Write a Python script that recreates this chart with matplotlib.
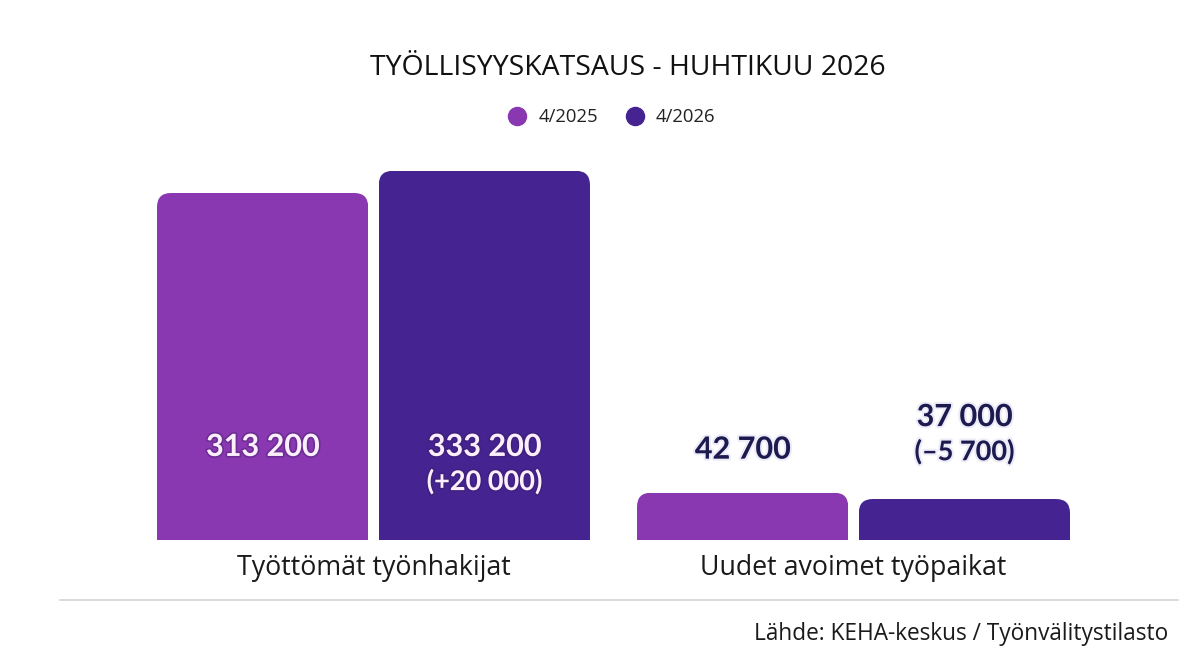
import matplotlib
matplotlib.use('Agg')
import matplotlib.pyplot as plt
import matplotlib.patheffects as pe
from matplotlib.patches import FancyBboxPatch
from matplotlib.lines import Line2D
import numpy as np

# Data
categories = ['Työttömät työnhakijat', 'Uudet avoimet työpaikat']
series_names = ['4/2025', '4/2026']
values_2025 = [313200, 42700]
values_2026 = [333200, 37000]
value_labels_2025 = ['313 200', '42 700']
value_labels_2026 = ['333 200', '37 000']
change_labels_2026 = ['(+20 000)', '(–5 700)']

colors = ['#8A38B1', '#452492']

plt.rcParams['font.family'] = ['Open Sans', 'DejaVu Sans']

fig = plt.figure(figsize=(12, 6.7), dpi=100)
ax = fig.add_axes([60 / 1200, 130 / 670, 1118 / 1200, 390 / 670])

x = np.arange(len(categories))
width = 0.44
offset = 0.231
ymax = 352000
ax.set_xlim(-0.6531, 1.676)
ax.set_ylim(0, ymax)

# pixel scales for rounded corners
dx_pix = 1118 / (1.676 + 0.6531)
dy_pix = 390 / ymax
aspect = dx_pix / dy_pix
r = 14 / dx_pix

series = [values_2025, values_2026]
all_bars = []
for i, vals in enumerate(series):
    bars = ax.bar(x + (i - 0.5) * 2 * offset, vals, width, color=colors[i],
                  label=series_names[i])
    for b in bars:
        clip = FancyBboxPatch((b.get_x(), -ymax * 0.1), b.get_width(),
                              b.get_height() + ymax * 0.1,
                              boxstyle=f'round,pad=0,rounding_size={r}',
                              mutation_aspect=aspect, transform=ax.transData)
        b.set_clip_path(clip)
    all_bars.append(bars)

num_font = ['Lato', 'DejaVu Sans']
inside_fx = [pe.withStroke(linewidth=2.5, foreground='#3a1a60', alpha=0.35)]
above_fx = [pe.withStroke(linewidth=3, foreground='#e8e6f5', alpha=0.8)]
big, small = 22, 19.5

for j in range(len(categories)):
    for i, bars in enumerate(all_bars):
        b = bars[j]
        cx = b.get_x() + b.get_width() / 2
        h = b.get_height()
        main = value_labels_2025[j] if i == 0 else value_labels_2026[j]
        sub = change_labels_2026[j] if i == 1 else None
        if h > ymax * 0.3:
            ax.annotate(main, (cx, 0), xytext=(0, 67), textcoords='offset points',
                        ha='center', va='center', fontsize=big, fontweight='bold',
                        family=num_font, color='#FBEFFB', path_effects=inside_fx)
            if sub:
                ax.annotate(sub, (cx, 0), xytext=(0, 42), textcoords='offset points',
                            ha='center', va='center', fontsize=small, fontweight='bold',
                            family=num_font, color='#FBEFFB', path_effects=inside_fx)
        else:
            if sub:
                ax.annotate(main, (cx, h), xytext=(0, 59), textcoords='offset points',
                            ha='center', va='center', fontsize=big, fontweight='bold',
                            family=num_font, color='#1C1A4F', path_effects=above_fx)
                ax.annotate(sub, (cx, h), xytext=(0, 34), textcoords='offset points',
                            ha='center', va='center', fontsize=small, fontweight='bold',
                            family=num_font, color='#1C1A4F', path_effects=above_fx)
            else:
                ax.annotate(main, (cx, h), xytext=(0, 31), textcoords='offset points',
                            ha='center', va='center', fontsize=big, fontweight='bold',
                            family=num_font, color='#1C1A4F', path_effects=above_fx)

ax.set_xticks(x)
ax.set_xticklabels(categories, fontsize=19.3, color='#1a1a1a')
ax.tick_params(axis='x', length=0, pad=10)
ax.set_yticks([])
for s in ax.spines.values():
    s.set_visible(False)

fig.text(628 / 1200, 1 - 68 / 670, 'TYÖLLISYYSKATSAUS - HUHTIKUU 2026', ha='center',
         va='center', fontsize=20.4, color='#111111')

handles = [Line2D([], [], marker='o', linestyle='none', markersize=13,
                  markerfacecolor=c, markeredgecolor=c) for c in colors]
fig.legend(handles, series_names, loc='center', bbox_to_anchor=(607 / 1200, 1 - 117 / 670),
           ncol=2, frameon=False, fontsize=13.3, handletextpad=0.15,
           columnspacing=1.0, labelcolor='#222222')

fig.add_artist(Line2D([60 / 1200, 1178 / 1200], [1 - 600 / 670] * 2,
                      color='#d6d6d6', linewidth=1.2))
fig.text(1168 / 1200, 1 - 634 / 670, 'Lähde: KEHA-keskus / Työnvälitystilasto',
         ha='right', va='center', fontsize=16.3, color='#1a1a1a')

fig.savefig('out.png', dpi=100)
